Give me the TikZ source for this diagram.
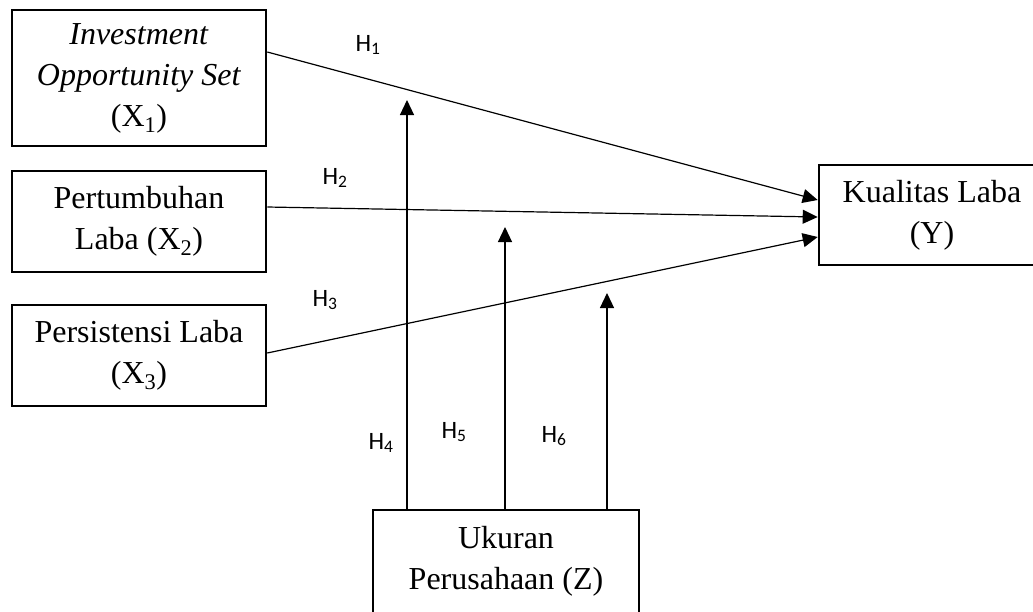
\documentclass[tikz,border=0pt]{standalone}
\usepackage{fontspec}
\setmainfont{Liberation Serif}
\newfontfamily\labelfont{Carlito}
\usetikzlibrary{arrows.meta,calc}

\tikzset{
  box/.style={draw, line width=2.6pt, align=center, inner sep=0pt,
    font=\fontsize{32}{41}\selectfont},
  link/.style={line width=1.2pt, -{Triangle[length=15pt,width=14pt]}},
  hlabel/.style={font=\labelfont\fontsize{25}{27}\selectfont, inner sep=0pt}
}

\begin{document}
\begin{tikzpicture}[x=1pt,y=-1pt]
  \useasboundingbox (0,0) rectangle (1033,611);

  % independent variables
  \node[box, minimum width=254pt, minimum height=136pt] (x1) at (139,78)
    {\textit{Investment}\\ \textit{Opportunity Set}\\ (X\textsubscript{1})};
  \node[box, minimum width=254pt, minimum height=101pt] (x2) at (139,221.5)
    {Pertumbuhan\\ Laba (X\textsubscript{2})};
  \node[box, minimum width=254pt, minimum height=101pt] (x3) at (139,355.5)
    {Persistensi Laba\\ (X\textsubscript{3})};

  % dependent variable
  \node[box, minimum width=226pt, minimum height=100pt] (y) at (932,215)
    {Kualitas Laba\\ (Y)};

  % moderating variable
  \node[box, minimum width=266pt, minimum height=103pt] (z) at (506,561.5)
    {Ukuran\\ Perusahaan (Z)};

  % direct effects
  \draw[link] (x1.east |- 0,52) -- (y.west |- 0,200);
  \draw[link] (x2.east |- 0,207) -- (y.west |- 0,217);
  \draw[link] (x3.east |- 0,353) -- (y.west |- 0,237);

  % moderation arrows
  \coordinate (m4) at (407,100);
  \coordinate (m5) at (505,227);
  \coordinate (m6) at (607,293);
  \draw[link] (m4 |- z.north) -- (m4);
  \draw[link] (m5 |- z.north) -- (m5);
  \draw[link] (m6 |- z.north) -- (m6);

  % hypothesis labels
  \node[hlabel] (h1) at (368,45) {H\textsubscript{1}};
  \node[hlabel] (h2) at (335,178) {H\textsubscript{2}};
  \node[hlabel] (h3) at (325,300) {H\textsubscript{3}};
  \node[hlabel] (h4) at (381,443) {H\textsubscript{4}};
  \node[hlabel] (h5) at (454,432) {H\textsubscript{5}};
  \node[hlabel] (h6) at (554,436) {H\textsubscript{6}};
\end{tikzpicture}
\end{document}
